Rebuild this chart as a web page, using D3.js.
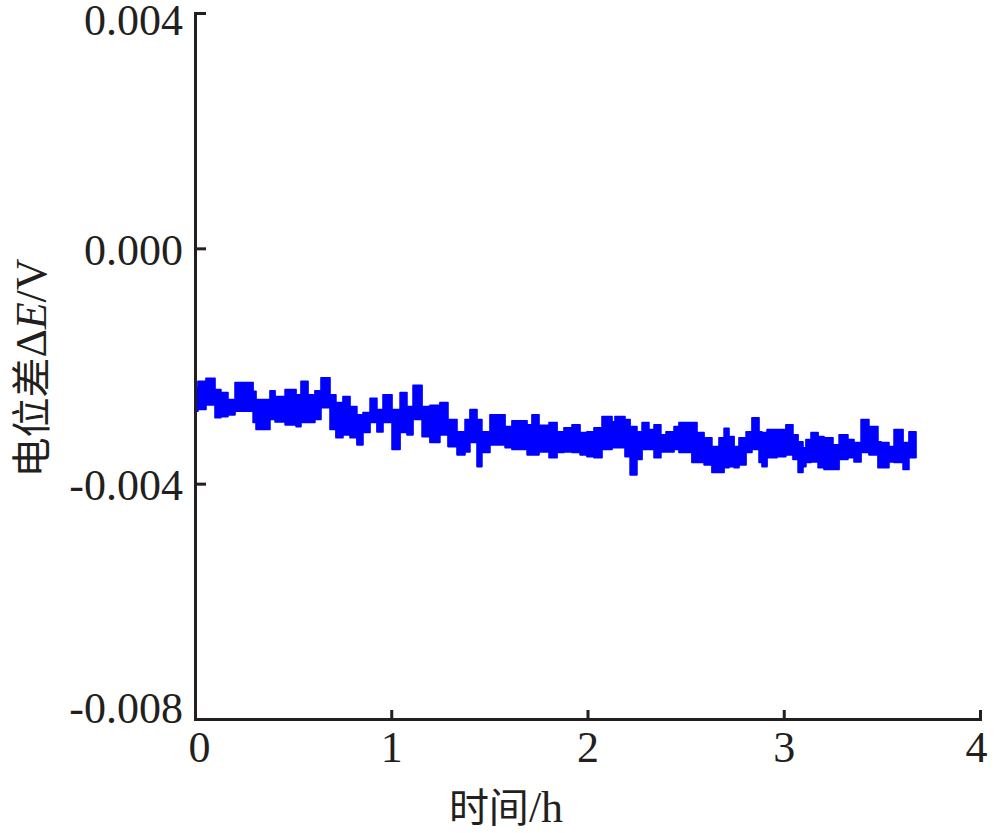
<!DOCTYPE html>
<html><head><meta charset="utf-8">
<script src="https://cdn.jsdelivr.net/npm/d3@7"></script>
<style>body{margin:0;background:#fff}svg{display:block}</style></head>
<body>
<svg id="c" width="1000" height="833"></svg>
<script>
// Segment start times (h) of the noisy potential-difference trace
const timeH=[0,0.015,0.056,0.102,0.132,0.168,0.204,0.296,0.311,0.382,
0.408,0.459,0.515,0.540,0.576,0.611,0.642,0.688,0.718,0.754,
0.790,0.825,0.856,0.892,0.927,0.958,1.004,1.045,1.080,1.111,
1.157,1.197,1.248,1.289,1.335,1.376,1.401,1.437,1.462,1.503,
1.580,1.615,1.692,1.717,1.753,1.804,1.845,1.880,1.921,1.962,
1.997,2.033,2.074,2.125,2.140,2.191,2.217,2.252,2.278,2.313,
2.339,2.374,2.400,2.441,2.466,2.532,2.558,2.594,2.634,2.670,
2.696,2.721,2.747,2.772,2.808,2.838,2.874,2.889,2.915,2.966,
3.011,3.047,3.073,3.098,3.113,3.139,3.175,3.205,3.251,3.282,
3.327,3.358,3.394,3.434,3.480,3.496,3.536,3.562,3.608,3.638];
const endTimeH=3.674;
// Upper envelope of the trace (V)
const upperV=[-0.00237,-0.00226,-0.00221,-0.00240,-0.00245,-0.00257,-0.00228,-0.00243,-0.00257,-0.00242,
-0.00252,-0.00240,-0.00249,-0.00226,-0.00249,-0.00242,-0.00220,-0.00249,-0.00262,-0.00252,
-0.00269,-0.00283,-0.00279,-0.00255,-0.00274,-0.00249,-0.00274,-0.00245,-0.00269,-0.00233,
-0.00269,-0.00267,-0.00262,-0.00291,-0.00312,-0.00291,-0.00274,-0.00291,-0.00312,-0.00283,
-0.00303,-0.00293,-0.00300,-0.00283,-0.00301,-0.00296,-0.00312,-0.00305,-0.00300,-0.00313,
-0.00312,-0.00305,-0.00286,-0.00295,-0.00286,-0.00291,-0.00303,-0.00312,-0.00296,-0.00308,
-0.00300,-0.00317,-0.00312,-0.00303,-0.00296,-0.00296,-0.00313,-0.00322,-0.00337,-0.00322,
-0.00306,-0.00320,-0.00337,-0.00322,-0.00312,-0.00288,-0.00312,-0.00313,-0.00308,-0.00308,
-0.00300,-0.00317,-0.00329,-0.00339,-0.00325,-0.00313,-0.00320,-0.00322,-0.00334,-0.00317,
-0.00325,-0.00330,-0.00291,-0.00303,-0.00329,-0.00330,-0.00337,-0.00308,-0.00330,-0.00312];
// Lower envelope of the trace (V)
const lowerV=[-0.00277,-0.00274,-0.00266,-0.00288,-0.00286,-0.00283,-0.00277,-0.00296,-0.00308,-0.00291,
-0.00295,-0.00300,-0.00303,-0.00296,-0.00296,-0.00291,-0.00271,-0.00308,-0.00322,-0.00317,
-0.00322,-0.00334,-0.00313,-0.00296,-0.00312,-0.00296,-0.00342,-0.00313,-0.00317,-0.00291,
-0.00320,-0.00330,-0.00317,-0.00337,-0.00351,-0.00346,-0.00330,-0.00371,-0.00347,-0.00334,
-0.00339,-0.00342,-0.00351,-0.00351,-0.00346,-0.00356,-0.00347,-0.00346,-0.00347,-0.00351,
-0.00354,-0.00356,-0.00342,-0.00339,-0.00339,-0.00354,-0.00385,-0.00359,-0.00342,-0.00342,
-0.00356,-0.00346,-0.00346,-0.00342,-0.00347,-0.00364,-0.00364,-0.00368,-0.00381,-0.00381,
-0.00373,-0.00371,-0.00373,-0.00368,-0.00347,-0.00342,-0.00364,-0.00371,-0.00356,-0.00354,
-0.00351,-0.00359,-0.00381,-0.00371,-0.00364,-0.00363,-0.00373,-0.00376,-0.00376,-0.00359,
-0.00356,-0.00363,-0.00347,-0.00351,-0.00373,-0.00373,-0.00363,-0.00364,-0.00376,-0.00356];

const xTicks=[0,1,2,3,4];
const xTickLabels=["0","1","2","3","4"];
const yTicks=[0.004,0.000,-0.004,-0.008];
const yTickLabels=["0.004","0.000","-0.004","-0.008"];
const xTitleCJK="时间", xTitleLatin="/h";
const yTitleCJK="电位差", yTitleDelta="Δ", yTitleE="E", yTitleUnit="/V";

const svg=d3.select("#c");
const x=d3.scaleLinear().domain([0,4]).range([195,980]);
const y=d3.scaleLinear().domain([-0.008,0.004]).range([719,13]);
const axisColor="#231f20";
const serif="'Liberation Serif','Times New Roman',serif";
const cjk="'Noto Sans CJK SC',sans-serif";

// trace band
const data=timeH.map((t,i)=>({t,hi:upperV[i],lo:lowerV[i]}));
data.push({t:endTimeH,hi:upperV[upperV.length-1],lo:lowerV[lowerV.length-1]});
const area=d3.area().x(d=>x(d.t)).y0(d=>y(d.lo)).y1(d=>y(d.hi)).curve(d3.curveStepAfter);
svg.append("path").datum(data).attr("d",area)
  .attr("fill","#0000ff").attr("stroke","#0000ff").attr("stroke-width",1.6).attr("stroke-linejoin","round");

// y axis
const gy=svg.append("g").attr("transform","translate(195,0)")
  .call(d3.axisLeft(y).tickValues(yTicks).tickFormat((d,i)=>yTickLabels[i]).tickSizeInner(-11).tickSizeOuter(0).tickPadding(12));
// x axis
const gx=svg.append("g").attr("transform","translate(0,719)")
  .call(d3.axisBottom(x).tickValues(xTicks).tickFormat((d,i)=>xTickLabels[i]).tickSizeInner(-9).tickSizeOuter(0).tickPadding(12));

[gx,gy].forEach(g=>{
  g.select(".domain").attr("stroke",axisColor).attr("stroke-width",3).attr("stroke-linecap","square");
  g.selectAll(".tick line").attr("stroke",axisColor).attr("stroke-width",3);
  g.selectAll(".tick text").attr("fill",axisColor).style("font-family",serif).style("font-size","44px");
});
gy.selectAll(".tick text").attr("y",(d,i)=>i===0?7:(i===yTicks.length-1?-11:2));
gx.selectAll(".tick text").attr("x",(d,i)=>i===0?4:(i===xTicks.length-1?-4:0));

// x title
const xt=svg.append("text").attr("x",506).attr("y",822).attr("text-anchor","middle")
  .attr("fill",axisColor).style("font-size","40px");
xt.append("tspan").style("font-family",cjk).text(xTitleCJK);
xt.append("tspan").style("font-family",serif).style("font-size","44px").text(xTitleLatin);

// y title
const yt=svg.append("text").attr("transform","translate(46,368) rotate(-90)").attr("text-anchor","middle")
  .attr("fill",axisColor).style("font-size","40px");
yt.append("tspan").style("font-family",cjk).text(yTitleCJK);
yt.append("tspan").style("font-family",serif).style("font-size","44px").text(yTitleDelta);
yt.append("tspan").style("font-family",serif).style("font-size","44px").style("font-style","italic").text(yTitleE);
yt.append("tspan").style("font-family",serif).style("font-size","44px").text(yTitleUnit);
</script>
</body></html>
